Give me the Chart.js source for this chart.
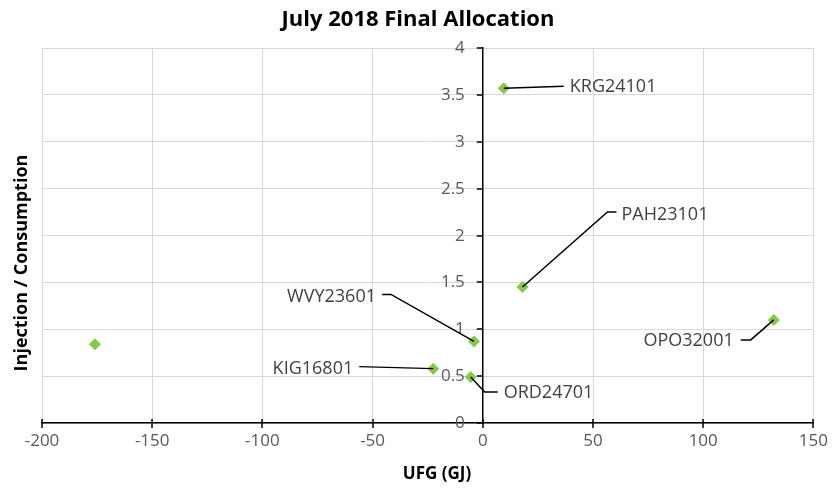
<!DOCTYPE html>
<html>
<head>
<meta charset="utf-8">
<script src="https://cdn.jsdelivr.net/npm/chart.js@4.4.1/dist/chart.umd.min.js"></script>
<style>
    html, body { margin: 0; padding: 0; background: #fff; }
    #wrap { width: 836px; height: 489px; position: relative; }
</style>
</head>
<body>
<div id="wrap"><canvas id="allocChart"></canvas></div>
<script>

// Data
const siteNames = ['KRG24101', 'PAH23101', 'WVY23601', 'KIG16801', 'ORD24701', 'OPO32001', ''];
const ufgValues = [9.5, 18, -4, -22.5, -5.5, 132, -176];
const ratioValues = [3.57, 1.45, 0.87, 0.58, 0.49, 1.10, 0.84];

const xTicks = [-200, -150, -100, -50, 0, 50, 100, 150];
const yTicks = [0, 0.5, 1, 1.5, 2, 2.5, 3, 3.5, 4];

// Leader lines for the point labels (pixel offsets from the point)
const leaders = {
    KRG24101: { path: [[0, 0], [60, -2]], text: [66, -1], align: 'left' },
    PAH23101: { path: [[0, 0], [85, -75], [94, -75]], text: [99, -72], align: 'left' },
    WVY23601: { path: [[0, 0], [-83, -47], [-92, -47]], text: [-98, -45], align: 'right' },
    KIG16801: { path: [[0, 0], [-74, -2]], text: [-80, 0], align: 'right' },
    ORD24701: { path: [[0, 0], [14, 15], [27, 15]], text: [33, 16], align: 'left' },
    OPO32001: { path: [[0, 0], [-23, 20], [-33, 20]], text: [-40, 21], align: 'right' }
};

const FONT = '"Open Sans", sans-serif';
const TEXT_COLOR = '#595959';

const extrasPlugin = {
    id: 'extras',
    afterDraw(chart) {
        const ctx = chart.ctx;
        const xs = chart.scales.x;
        const ys = chart.scales.y;
        const area = chart.chartArea;

        ctx.save();

        // tick marks on the axes
        ctx.strokeStyle = '#000';
        ctx.lineWidth = 1.5;
        xTicks.forEach(v => {
            const px = Math.round(xs.getPixelForValue(v));
            ctx.beginPath();
            ctx.moveTo(px, area.bottom - 4);
            ctx.lineTo(px, area.bottom + 5);
            ctx.stroke();
        });
        const x0 = xs.getPixelForValue(0);
        ctx.fillStyle = TEXT_COLOR;
        ctx.font = '17px ' + FONT;
        ctx.textAlign = 'right';
        ctx.textBaseline = 'middle';
        yTicks.forEach(v => {
            const py = Math.round(ys.getPixelForValue(v));
            ctx.beginPath();
            ctx.moveTo(x0 - 6, py);
            ctx.lineTo(x0, py);
            ctx.stroke();
            ctx.fillText(String(v), x0 - 18, py);
        });

        // titles
        ctx.fillStyle = '#000';
        ctx.textAlign = 'center';
        ctx.textBaseline = 'middle';
        ctx.font = 'bold 22px ' + FONT;
        ctx.fillText('July 2018 Final Allocation', 418, 20);

        ctx.font = 'bold 17px ' + FONT;
        ctx.fillText('UFG (GJ)', 437, 474);

        ctx.save();
        ctx.translate(22, 263);
        ctx.rotate(-Math.PI / 2);
        ctx.font = 'bold 18px ' + FONT;
        ctx.fillText('Injection / Consumption', 0, 0);
        ctx.restore();

        // point labels with leader lines
        ctx.font = '18px ' + FONT;
        ctx.fillStyle = '#404040';
        ctx.strokeStyle = '#000';
        ctx.lineWidth = 1.5;
        siteNames.forEach((name, i) => {
            const l = leaders[name];
            if (!l) return;
            const px = xs.getPixelForValue(ufgValues[i]);
            const py = ys.getPixelForValue(ratioValues[i]);
            ctx.beginPath();
            l.path.forEach(([dx, dy], k) => {
                if (k === 0) ctx.moveTo(px + dx, py + dy);
                else ctx.lineTo(px + dx, py + dy);
            });
            ctx.stroke();
            ctx.textAlign = l.align;
            ctx.textBaseline = 'middle';
            ctx.fillText(name, px + l.text[0], py + l.text[1]);
        });

        ctx.restore();
    }
};

const canvas = document.getElementById('allocChart');

new Chart(canvas, {
    type: 'scatter',
    data: {
        datasets: [
            {
                data: ufgValues.map((x, i) => ({ x: x, y: ratioValues[i] })),
                pointStyle: 'rectRot',
                pointRadius: 6,
                pointHoverRadius: 6,
                backgroundColor: '#86c84a',
                borderColor: '#86c84a',
                borderWidth: 0
            }
        ]
    },
    options: {
        responsive: true,
        maintainAspectRatio: false,
        animation: false,
        layout: {
            padding: { left: 42, right: 17, top: 48, bottom: 0 }
        },
        plugins: {
            legend: { display: false },
            tooltip: { enabled: false },
            title: { display: false }
        },
        scales: {
            x: {
                type: 'linear',
                position: 'bottom',
                min: -200,
                max: 150,
                afterFit: scale => { scale.height = 66; },
                afterBuildTicks: scale => { scale.ticks = xTicks.map(v => ({ value: v })); },
                grid: { color: '#d9d9d9', lineWidth: 1, drawTicks: false },
                border: { color: '#000', width: 1.5 },
                ticks: {
                    color: TEXT_COLOR,
                    font: { family: FONT, size: 17 },
                    padding: 8
                }
            },
            y: {
                type: 'linear',
                position: { x: 0 },
                min: 0,
                max: 4,
                afterBuildTicks: scale => { scale.ticks = yTicks.map(v => ({ value: v })); },
                grid: { color: '#d9d9d9', lineWidth: 1, drawTicks: false },
                border: { color: '#000', width: 1.5 },
                ticks: { display: false }
            }
        }
    },
    plugins: [extrasPlugin]
});

</script>
</body>
</html>
